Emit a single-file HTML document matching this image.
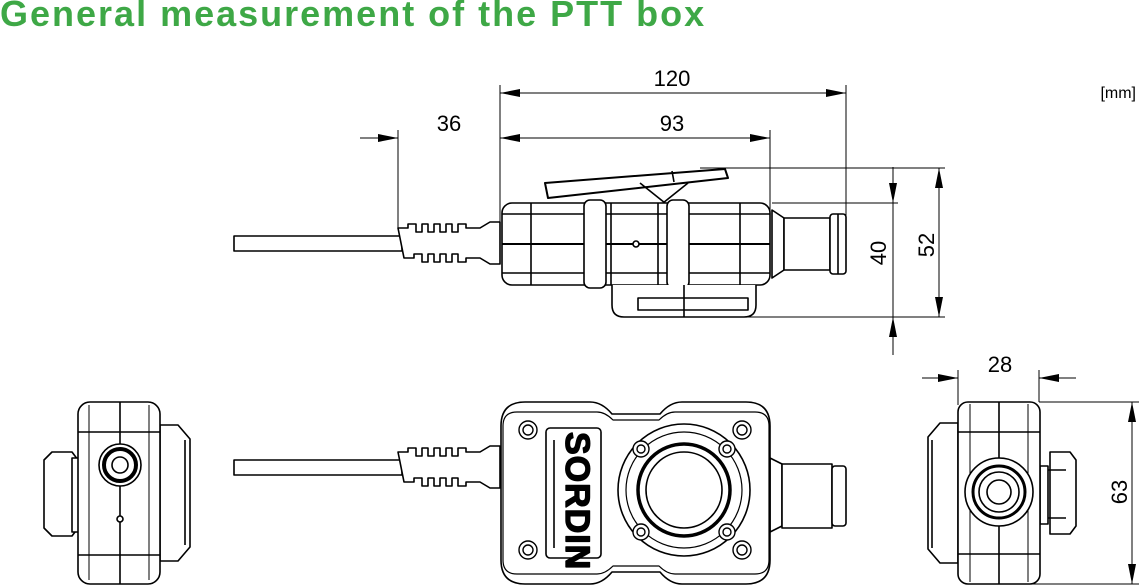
<!DOCTYPE html>
<html><head><meta charset="utf-8"><style>
html,body{margin:0;padding:0;background:#fff;}
body{width:1139px;height:586px;overflow:hidden;position:relative;}
h1{position:absolute;left:0;top:-7px;margin:0;font:bold 36px "Liberation Sans",sans-serif;color:#3ea846;letter-spacing:2px;white-space:nowrap;}
svg{position:absolute;left:0;top:0;}
text{font-family:"Liberation Sans",sans-serif;fill:#000;}
</style></head><body>
<h1>General measurement of the PTT box</h1>
<svg width="1139" height="586" viewBox="0 0 1139 586">
<defs>
<marker id="a" viewBox="0 0 20 8" refX="20" refY="4" markerWidth="20" markerHeight="8" orient="auto-start-reverse" markerUnits="userSpaceOnUse"><path d="M0 0L20 4L0 8z" fill="#000"/></marker>
</defs>
<g stroke="#000" stroke-width="1" fill="none">
<line x1="500" y1="85" x2="500" y2="262"/>
<line x1="846" y1="85" x2="846" y2="268"/>
<line x1="770" y1="130" x2="770" y2="246"/>
<line x1="398" y1="130" x2="398" y2="228"/>
<line x1="700" y1="168" x2="945" y2="168"/>
<line x1="772" y1="203" x2="898" y2="203"/>
<line x1="720" y1="317" x2="945" y2="317"/>
<line x1="500" y1="93" x2="846" y2="93" marker-start="url(#a)" marker-end="url(#a)"/>
<line x1="500" y1="138" x2="770" y2="138" marker-start="url(#a)" marker-end="url(#a)"/>
<line x1="360" y1="138" x2="398" y2="138" marker-end="url(#a)"/>
<line x1="893" y1="167" x2="893" y2="203" marker-end="url(#a)"/>
<line x1="893" y1="203" x2="893" y2="317"/>
<line x1="893" y1="355" x2="893" y2="317" marker-end="url(#a)"/>
<line x1="939" y1="168" x2="939" y2="317" marker-start="url(#a)" marker-end="url(#a)"/>
<line x1="958" y1="370" x2="958" y2="405"/>
<line x1="1039" y1="370" x2="1039" y2="402"/>
<line x1="922" y1="378" x2="958" y2="378" marker-end="url(#a)"/>
<line x1="1076" y1="378" x2="1039" y2="378" marker-end="url(#a)"/>
<line x1="1039" y1="402" x2="1139" y2="402"/>
<line x1="1000" y1="584" x2="1139" y2="584"/>
<line x1="1132" y1="402" x2="1132" y2="584" marker-start="url(#a)" marker-end="url(#a)"/>
</g>
<g font-size="22">
<text x="672" y="86" text-anchor="middle">120</text>
<text x="672" y="131" text-anchor="middle">93</text>
<text x="449" y="131" text-anchor="middle">36</text>
<text x="1000" y="372" text-anchor="middle">28</text>
<text transform="translate(886,253) rotate(-90)" text-anchor="middle">40</text>
<text transform="translate(934,245) rotate(-90)" text-anchor="middle">52</text>
<text transform="translate(1127,492) rotate(-90)" text-anchor="middle">63</text>
</g>
<text x="1136" y="98" font-size="16" text-anchor="end">[mm]</text>

<g stroke="#000" stroke-width="1.6" fill="#fff" stroke-linejoin="round">
<rect x="234" y="236" width="168" height="15"/>
<path d="M398 228h10v-4h8v8h6v-8h6v8h6v-8h6v8h6v-8h6v8h6v-8h8v4h14l10-6h10v42h-10l-10-6h-14v4h-8v-8h-6v8h-6v-8h-6v8h-6v-8h-6v8h-6v-8h-8v4h-10z"/>
<path d="M545 183l180-14l3 9l-180 20z" stroke-width="2"/>
<line x1="672" y1="171" x2="674" y2="182"/>
<path d="M640 183l25 20M688 183l-25 20" fill="none"/>
<rect x="502" y="203" width="268" height="82" rx="10"/>
<line x1="502" y1="214" x2="770" y2="214"/><line x1="502" y1="244" x2="770" y2="244" stroke-width="2"/><line x1="502" y1="273" x2="770" y2="273"/>
<line x1="531" y1="203" x2="531" y2="285"/><line x1="611" y1="203" x2="611" y2="285"/><line x1="658" y1="203" x2="658" y2="285"/><line x1="740" y1="203" x2="740" y2="285"/>
<rect x="584" y="200" width="22" height="88" rx="6"/>
<rect x="667" y="200" width="22" height="88" rx="6"/>
<circle cx="636" cy="244" r="3"/>
<path d="M612 285v20q0 12 12 12h120q12 0 12-12v-20" />
<path d="M638 298h110v12h-110z"/>
<line x1="684" y1="285" x2="684" y2="317"/>
<path d="M772 210l12 8v52l-12 8z"/>
<rect x="784" y="218" width="46" height="52"/>
<rect x="830" y="214" width="16" height="60" rx="3"/>
<line x1="838" y1="214" x2="838" y2="274"/>

<path d="M160 425h18l12 14v108l-12 14h-18z"/>
<line x1="185" y1="440" x2="185" y2="545"/>
<path d="M52 452h20l6 8v68l-6 8h-20l-8-8v-68z"/>
<rect x="72" y="458" width="10" height="74"/>
<rect x="78" y="402" width="82" height="182" rx="12"/>
<line x1="78" y1="432" x2="160" y2="432"/><line x1="78" y1="555" x2="160" y2="555"/>
<line x1="89" y1="405" x2="89" y2="580" stroke-width="1"/><line x1="149" y1="405" x2="149" y2="580" stroke-width="1"/>
<line x1="120" y1="402" x2="120" y2="584"/>
<circle cx="120" cy="465" r="21"/>
<circle cx="120" cy="465" r="16" stroke-width="4"/>
<circle cx="120" cy="465" r="8"/>
<circle cx="120" cy="519" r="3"/>

<rect x="234" y="460" width="168" height="15"/>
<path d="M398 452h10v-4h8v8h6v-8h6v8h6v-8h6v8h6v-8h6v8h6v-8h8v4h14l10-6h10v42h-10l-10-6h-14v4h-8v-8h-6v8h-6v-8h-6v8h-6v-8h-6v8h-6v-8h-8v4h-10z"/>
<path d="M770 458l12 6v62l-12 6z"/>
<rect x="782" y="464" width="50" height="64"/>
<rect x="832" y="466" width="14" height="60" rx="3"/>
<path d="M525 402h65q12 0 22 12h48q10-12 22-12h64q24 0 24 24v134q0 24-24 24h-64q-12 0-22-12h-48q-10 12-22 12h-65q-24 0-24-24v-134q0-24 24-24z"/>
<path d="M517 412h80q8 0 16 8h46q8-8 16-8h80q14 0 14 14v134q0 14-14 14h-80q-8 0-16-8h-46q-8 8-16 8h-80q-14 0-14-14v-134q0-14 14-14z" stroke-width="1.2"/>
<rect x="546" y="428" width="55" height="130" rx="4"/>
<line x1="554" y1="440" x2="554" y2="548"/>
<text transform="translate(566,432) rotate(90)" font-size="34" font-weight="bold" fill="#fff" stroke="#000" stroke-width="1.4" letter-spacing="1">SORDIN</text>
<circle cx="684" cy="490" r="66"/>
<circle cx="684" cy="490" r="58" stroke-width="1.2"/>
<circle cx="684" cy="490" r="46" stroke-width="3.5"/>
<circle cx="684" cy="490" r="38"/>
<g stroke-width="1.4">
<circle cx="528" cy="430" r="9"/><circle cx="528" cy="430" r="5"/>
<circle cx="528" cy="550" r="9"/><circle cx="528" cy="550" r="5"/>
<circle cx="742" cy="430" r="9"/><circle cx="742" cy="430" r="5"/>
<circle cx="742" cy="550" r="9"/><circle cx="742" cy="550" r="5"/>
<circle cx="641" cy="449" r="8"/><circle cx="641" cy="449" r="4"/>
<circle cx="727" cy="449" r="8"/><circle cx="727" cy="449" r="4"/>
<circle cx="641" cy="532" r="8"/><circle cx="641" cy="532" r="4"/>
<circle cx="727" cy="532" r="8"/><circle cx="727" cy="532" r="4"/>
</g>

<path d="M958 423h-18l-12 14v112l12 14h18z"/>
<line x1="932" y1="440" x2="932" y2="548"/>
<rect x="1040" y="466" width="8" height="58"/>
<path d="M1050 452h20l6 8v66l-6 8h-20z"/>
<line x1="1048" y1="470" x2="1066" y2="470"/><line x1="1048" y1="518" x2="1066" y2="518"/>
<rect x="958" y="402" width="82" height="182" rx="10"/>
<line x1="958" y1="432" x2="1040" y2="432"/><line x1="958" y1="554" x2="1040" y2="554"/>
<line x1="970" y1="404" x2="970" y2="582" stroke-width="1"/><line x1="1028" y1="404" x2="1028" y2="582" stroke-width="1"/>
<line x1="999" y1="402" x2="999" y2="584"/>
<circle cx="999" cy="492" r="34"/>
<circle cx="999" cy="492" r="26" stroke-width="3"/>
<circle cx="999" cy="492" r="20"/>
<circle cx="999" cy="492" r="12"/>
</g>
</svg>
</body></html>
